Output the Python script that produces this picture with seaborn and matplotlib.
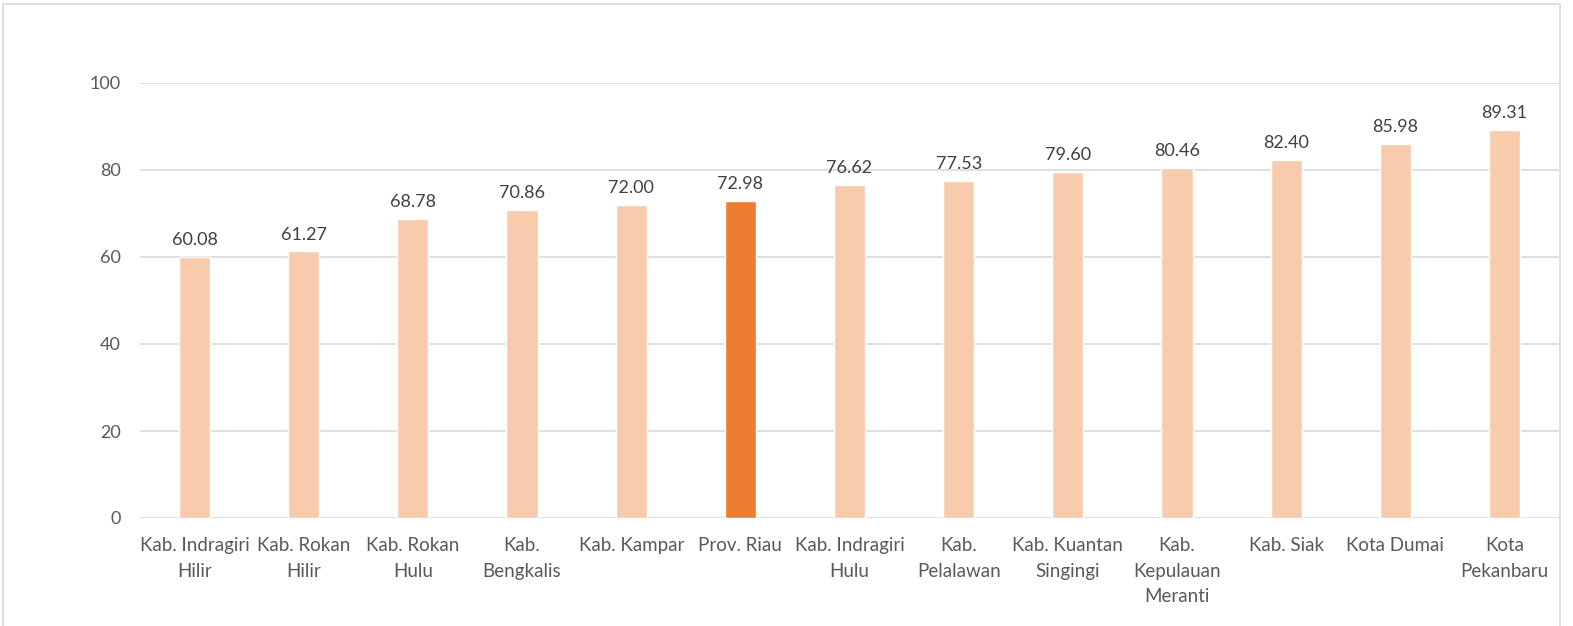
import matplotlib
matplotlib.use('Agg')
import matplotlib.pyplot as plt
import seaborn as sns
import pandas as pd
from matplotlib.patches import Rectangle

# Data
wilayah = ['Kab. Indragiri\nHilir', 'Kab. Rokan\nHilir', 'Kab. Rokan\nHulu', 'Kab.\nBengkalis',
           'Kab. Kampar', 'Prov. Riau', 'Kab. Indragiri\nHulu', 'Kab.\nPelalawan',
           'Kab. Kuantan\nSingingi', 'Kab.\nKepulauan\nMeranti', 'Kab. Siak', 'Kota Dumai',
           'Kota\nPekanbaru']
nilai = [60.08, 61.27, 68.78, 70.86, 72.00, 72.98, 76.62, 77.53, 79.60, 80.46, 82.40, 85.98, 89.31]
sorot = 'Prov. Riau'

df = pd.DataFrame({'wilayah': wilayah, 'nilai': nilai})
warna = {w: ('#ED7D31' if w == sorot else '#F8CBAD') for w in wilayah}

sns.set_style('white')
plt.rcParams['font.family'] = ['Lato', 'DejaVu Sans']
teks = '#595959'

fig = plt.figure(figsize=(15.73, 6.26), dpi=100)
ax = fig.add_axes([140/1573, 1 - 518/626, (1559 - 140)/1573, (518 - 83)/626])

sns.barplot(data=df, x='wilayah', y='nilai', hue='wilayah', palette=warna,
            width=0.285, legend=False, ax=ax, saturation=1)

ax.set_ylim(0, 100)
ax.set_xlim(-0.5, len(wilayah) - 0.5)
ax.set_yticks(range(0, 101, 20))
ax.yaxis.grid(True, color='#d9d9d9', linewidth=1.2)
ax.set_axisbelow(True)
for s in ax.spines.values():
    s.set_visible(False)
ax.set_xlabel('')
ax.set_ylabel('')
ax.tick_params(axis='y', length=0, labelsize=13, colors=teks, pad=14)
ax.tick_params(axis='x', length=0, labelsize=13.5, colors=teks, pad=14)
for lbl in ax.get_xticklabels():
    lbl.set_linespacing(1.6)

for i, v in enumerate(nilai):
    ax.text(i, v + 2.0, f'{v:.2f}', ha='center', va='bottom', fontsize=13,
            color='#404040', clip_on=False)

# bingkai grafik
fig.patches.append(Rectangle((3/1573, -0.05), (1560 - 3)/1573, 1.05 - 4/626,
                             transform=fig.transFigure, fill=False,
                             edgecolor='#d9d9d9', linewidth=1.2))

fig.savefig('out.png', dpi=100)
